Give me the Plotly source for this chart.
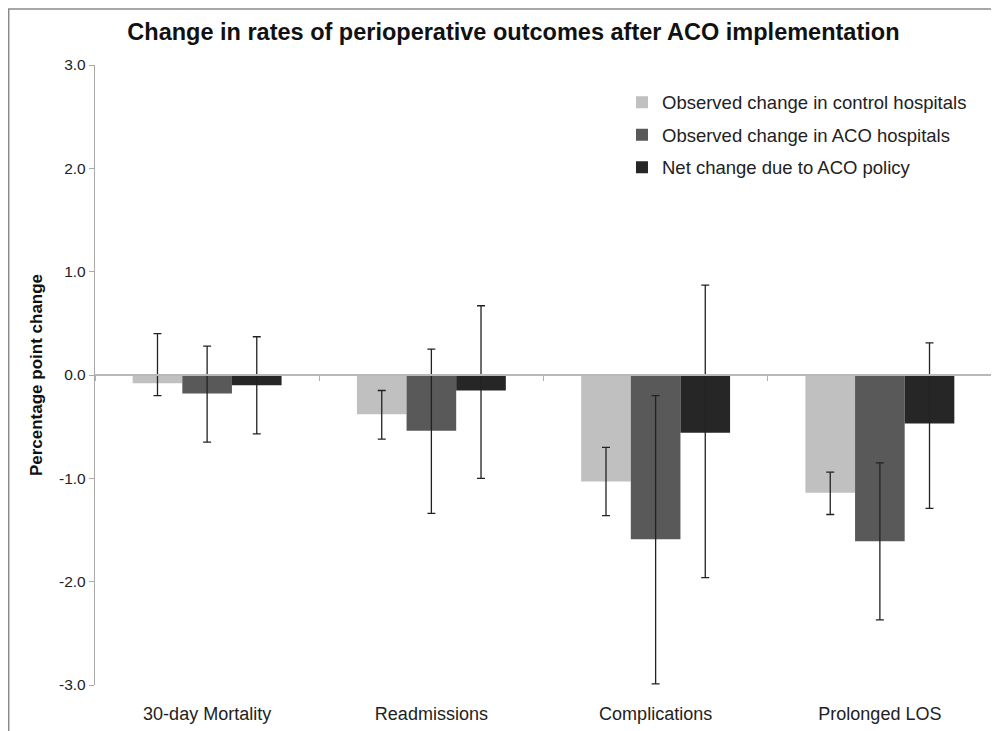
import plotly.graph_objects as go

categories = ["30-day Mortality", "Readmissions", "Complications", "Prolonged LOS"]
series_names = ["Observed change in control hospitals",
                "Observed change in ACO hospitals",
                "Net change due to ACO policy"]
control_vals = [-0.08, -0.38, -1.03, -1.14]
control_hi = [0.40, -0.15, -0.70, -0.94]
control_lo = [-0.20, -0.62, -1.36, -1.35]
aco_vals = [-0.18, -0.54, -1.59, -1.61]
aco_hi = [0.28, 0.25, -0.20, -0.85]
aco_lo = [-0.65, -1.34, -2.99, -2.37]
net_vals = [-0.10, -0.15, -0.56, -0.47]
net_hi = [0.37, 0.67, 0.87, 0.31]
net_lo = [-0.57, -1.00, -1.96, -1.29]
y_ticks = [-3, -2, -1, 0, 1, 2, 3]
y_tick_labels = ["-3.0", "-2.0", "-1.0", "0.0", "1.0", "2.0", "3.0"]
colors = ["#c0c0c0", "#595959", "#262626"]

FONT = "Liberation Sans, Arial, sans-serif"

fig = go.Figure()
for i, (name, v, hi, lo) in enumerate(zip(series_names,
                                        [control_vals, aco_vals, net_vals],
                                        [control_hi, aco_hi, net_hi],
                                        [control_lo, aco_lo, net_lo])):
    fig.add_trace(go.Bar(
        x=categories, y=v, name=name, marker_color=colors[i],
        marker_line_width=0, legendgroup=f"g{i}",
        error_y=dict(type="data", symmetric=False,
                     array=[h - a for h, a in zip(hi, v)],
                     arrayminus=[a - l for l, a in zip(lo, v)],
                     color="#222222", thickness=1.3, width=4),
    ))

# helper axis for the zero line with category-divider ticks
fig.add_trace(go.Scatter(x=[-0.5, len(categories) - 0.5], y=[0, 0], xaxis="x2",
                         mode="lines", line=dict(width=0), hoverinfo="skip",
                         showlegend=False))

fig.update_layout(
    width=991, height=723,
    margin=dict(l=87, r=7, t=57, b=44),
    paper_bgcolor="white", plot_bgcolor="white",
    barmode="group", bargap=0.336, bargroupgap=0,
    title=dict(text="<b>Change in rates of perioperative outcomes after ACO implementation</b>",
               x=0.51, xanchor="center", y=0.967, yanchor="middle",
               font=dict(family=FONT, size=23.5, color="#111111")),
    font=dict(family=FONT, color="#222222"),
    legend=dict(x=0.5875, y=0.97, xanchor="left", yanchor="top",
                font=dict(size=18.5, color="#222222"),
                traceorder="grouped", tracegroupgap=5.5,
                bgcolor="rgba(0,0,0,0)", itemwidth=30),
    xaxis=dict(type="category", range=[-0.5, 3.5], showgrid=False, zeroline=False,
               showline=False, ticks="outside", ticklen=12, tickcolor="rgba(0,0,0,0)",
               tickfont=dict(size=18, color="#222222")),
    xaxis2=dict(overlaying="x", anchor="free", position=0.5, range=[-0.5, 3.5],
                tickvals=[-0.5, 0.5, 1.5, 2.5, 3.5], showticklabels=False,
                ticks="outside", ticklen=5, tickcolor="#b0b0b0", tickwidth=1.3,
                showline=True, linecolor="#b8b8b8", linewidth=2,
                showgrid=False, zeroline=False),
    yaxis=dict(range=[-3, 3], tickvals=y_ticks, ticktext=y_tick_labels, showgrid=False,
               zeroline=False, showline=True, linecolor="#aaaaaa", linewidth=1.3,
               ticks="outside", ticklen=5, tickcolor="#aaaaaa",
               tickfont=dict(size=15.5, color="#222222"),
               title=dict(text="<b>Percentage point change</b>",
                          font=dict(size=17, color="#111111"), standoff=12)),
    shapes=[
        dict(type="line", xref="paper", yref="paper", x0=-0.097, x1=1.2,
             y0=1.0905, y1=1.0905, line=dict(color="#8a8a8a", width=1.5)),
        dict(type="line", xref="paper", yref="paper", x0=-0.0962, x1=-0.0962,
             y0=1.0905, y1=-0.2, line=dict(color="#8a8a8a", width=1.5)),
    ],
)

fig.write_html("out.html")
